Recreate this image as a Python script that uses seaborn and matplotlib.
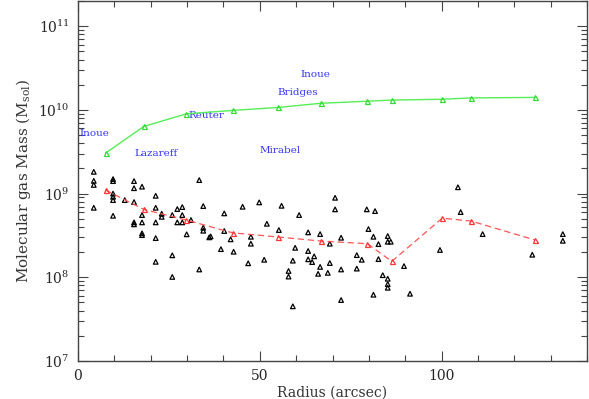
import matplotlib
matplotlib.use("Agg")
import matplotlib.pyplot as plt
import seaborn as sns
import numpy as np
import pandas as pd
from matplotlib.ticker import MultipleLocator, LogLocator

# ---- data ----
radius_bins = [7.6, 18.1, 29.8, 42.5, 55.1, 66.8, 79.6, 86.3, 100.2, 108.2, 125.7]
total_mass = [3.05e9, 6.34e9, 8.98e9, 9.85e9, 1.07e10, 1.20e10, 1.27e10, 1.31e10,
              1.34e10, 1.39e10, 1.41e10]
median_mass = [1.10e9, 6.47e8, 4.83e8, 3.40e8, 3.03e8, 2.71e8, 2.52e8, 1.55e8,
               5.09e8, 4.69e8, 2.79e8]

cloud_radius = [4.34, 4.34, 4.34, 4.34, 9.64, 9.64, 9.64, 9.64, 9.64, 9.64,
                15.41, 15.41, 17.61, 12.86, 15.41, 21.37, 17.61, 21.37, 15.41, 15.41,
                17.61, 17.61, 17.61, 21.37, 21.37, 21.37, 25.93, 25.93, 33.35, 34.45,
                33.35, 27.31, 28.68, 25.93, 23.02, 23.02, 28.68, 31.07, 27.31, 28.68,
                29.89, 34.45, 34.45, 36.10,
                40.22, 45.27, 49.84, 55.99, 60.82, 70.71, 70.71, 36.48, 40.22, 39.31,
                41.98, 42.80, 47.55, 47.55, 51.95, 55.25, 46.81, 51.21, 59.73, 63.30,
                66.59, 72.36, 69.26, 63.30, 64.95, 59.09, 63.30, 64.40, 66.59, 57.91,
                57.91, 69.26, 72.36, 66.04, 68.71, 72.36, 59.09,
                79.42, 81.70, 104.5, 105.25, 79.89, 81.26, 85.19, 85.19, 86.02, 82.64,
                76.68, 78.05, 82.64, 76.68, 89.67, 83.82, 85.19, 85.19, 85.19, 81.26,
                91.32, 99.56,
                111.29, 133.35, 133.35, 124.95]
cloud_mass = [1.82e9, 1.42e9, 1.27e9, 6.77e8, 1.49e9, 1.41e9, 1.00e9, 9.16e8, 8.36e8, 5.43e8,
              1.41e9, 1.16e9, 1.21e9, 8.36e8, 7.92e8, 9.41e8, 5.54e8, 6.77e8, 4.53e8, 4.29e8,
              4.53e8, 3.35e8, 3.19e8, 4.53e8, 2.94e8, 1.53e8, 1.83e8, 1.01e8, 1.45e9, 7.09e8,
              1.24e8, 6.53e8, 6.90e8, 5.54e8, 5.74e8, 5.28e8, 5.54e8, 4.83e8, 4.53e8, 4.53e8,
              3.26e8, 3.91e8, 3.60e8, 3.00e8,
              5.80e8, 6.96e8, 7.85e8, 7.15e8, 5.54e8, 8.91e8, 6.48e8, 3.08e8, 3.57e8, 2.17e8,
              2.84e8, 2.02e8, 3.05e8, 2.52e8, 4.36e8, 3.67e8, 1.47e8, 1.62e8, 2.25e8, 3.44e8,
              3.28e8, 2.97e8, 2.52e8, 2.06e8, 1.78e8, 1.58e8, 1.64e8, 1.52e8, 1.33e8, 1.19e8,
              1.02e8, 1.48e8, 1.24e8, 1.10e8, 1.13e8, 5.35e7, 4.50e7,
              6.48e8, 6.18e8, 1.19e9, 6.01e8, 3.77e8, 3.05e8, 3.11e8, 2.66e8, 2.66e8, 2.49e8,
              1.84e8, 1.62e8, 1.65e8, 1.27e8, 1.36e8, 1.06e8, 9.61e7, 8.30e7, 7.50e7, 6.19e7,
              6.36e7, 2.12e8,
              3.28e8, 3.28e8, 2.73e8, 1.86e8]

ref_labels = ["Inoue", "Lazareff", "Reuter", "Mirabel", "Bridges", "Inoue"]
ref_x = [0.5, 15.4, 30.3, 50.0, 54.9, 61.3]
ref_y = [5.27e9, 3.05e9, 8.59e9, 3.25e9, 1.6e10, 2.65e10]

# ---- style ----
sns.set_style("ticks")
plt.rcParams["font.family"] = ["DejaVu Serif"]
plt.rcParams["mathtext.fontset"] = "dejavuserif"

fig = plt.figure(figsize=(5.89, 3.99), dpi=100)
ax = fig.add_axes([78/589, 38/399, 509/589, 360/399])

edge = "#444444"

sns.scatterplot(x=cloud_radius, y=cloud_mass, ax=ax, marker="^", s=11,
                facecolor="none", edgecolor="black", linewidth=0.9, zorder=3)
sns.lineplot(x=radius_bins, y=median_mass, ax=ax, color="#ff5555", linewidth=0.9,
             linestyle=(0, (5, 3)), marker="^", markersize=3.6, markerfacecolor="none",
             markeredgecolor="#ff3333", markeredgewidth=0.9, estimator=None, sort=False,
             zorder=4)
sns.lineplot(x=radius_bins, y=total_mass, ax=ax, color="#55ee55", linewidth=1.0,
             marker="^", markersize=3.6, markerfacecolor="none",
             markeredgecolor="#33dd33", markeredgewidth=0.9, estimator=None, sort=False,
             zorder=4)

for lab, xx, yy in zip(ref_labels, ref_x, ref_y):
    ax.text(xx, yy, lab, color="#3333ff", fontsize=7.5, ha="left", va="center",
            family="DejaVu Serif")

ax.set_yscale("log")
ax.set_xlim(0, 140)
ax.set_ylim(1e7, 2e11)
ax.xaxis.set_major_locator(MultipleLocator(50))
ax.xaxis.set_minor_locator(MultipleLocator(10))
ax.yaxis.set_major_locator(LogLocator(base=10, numticks=10))
ax.yaxis.set_minor_locator(LogLocator(base=10, subs=np.arange(2, 10), numticks=20))

ax.tick_params(which="both", direction="in", top=True, right=True, color=edge,
               labelsize=10, width=0.8)
ax.tick_params(which="major", length=7, pad=6)
ax.tick_params(which="minor", length=4)
for sp in ax.spines.values():
    sp.set_color(edge)
    sp.set_linewidth(1.0)

ax.set_xlabel("Radius (arcsec)", fontsize=10, labelpad=2, color="#333333")
ax.set_ylabel(r"Molecular gas Mass (M$_{\rm sol}$)", fontsize=11, labelpad=4,
              color="#333333")

fig.savefig("out.png", dpi=100)
